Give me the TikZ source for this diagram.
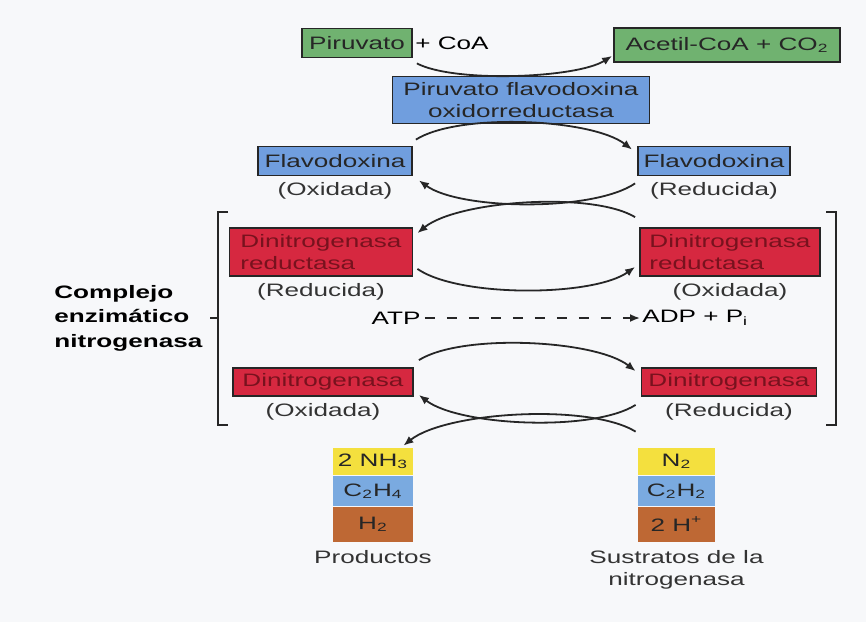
\documentclass[tikz,border=0pt]{standalone}
\usepackage{fontspec}
\setmainfont{Liberation Sans}[FakeStretch=1.45]
\usetikzlibrary{arrows.meta,positioning}

\definecolor{pgreen}{RGB}{112,178,112}
\definecolor{fblue}{RGB}{112,158,222}
\definecolor{nred}{RGB}{214,40,64}
\definecolor{ndark}{RGB}{120,18,30}
\definecolor{cyellow}{RGB}{244,224,62}
\definecolor{cblue}{RGB}{122,170,224}
\definecolor{cbrown}{RGB}{190,104,52}
\definecolor{pagebg}{RGB}{247,248,250}

\begin{document}
\begin{tikzpicture}[
        x=0.5pt, y=0.5pt,
        font=\fontsize{9}{11}\selectfont,
        node distance=2pt,
        box/.style={draw=black!85, line width=0.9pt, inner sep=2pt,
            align=center, text=black!85},
        redbox/.style={box, fill=nred, text=ndark, align=left},
        redox/.style={inner sep=1pt, text=black!80},
        chem/.style={inner sep=0pt, minimum width=40pt, text=black!85},
        arrow/.style={-{Latex[length=5pt,width=4pt]}, line width=0.9pt, black!85},
        arc/.style={arrow, looseness=0.6},
        bracket/.style={line width=0.9pt, black!85}
    ]
    \useasboundingbox[fill=pagebg] (0,0) rectangle (866,-622);

    % piruvato -> acetil-CoA
    \node[box, fill=pgreen, minimum width=55pt, minimum height=14.5pt] (pir) at (357,-43) {Piruvato};
    \node[right=0pt of pir, inner sep=1pt] (coa) {+ CoA};
    \node[box, fill=pgreen, minimum width=113pt, minimum height=17pt] (acet) at (727,-45)
    {Acetil-CoA + CO\textsubscript{2}};
    \node[box, fill=fblue, minimum width=128.5pt, minimum height=23.5pt] (pfo) at (521,-100)
    {Piruvato flavodoxina\\oxidorreductasa};

    % flavodoxina
    \node[box, fill=fblue, minimum width=77pt, minimum height=14.5pt] (flaL) at (335,-161) {Flavodoxina};
    \node[redox, below=of flaL] (flaLst) {(Oxidada)};
    \node[box, fill=fblue, minimum width=76pt, minimum height=14.5pt] (flaR) at (714,-161) {Flavodoxina};
    \node[redox, below=of flaR] (flaRst) {(Reducida)};

    % complejo nitrogenasa
    \node[redbox, minimum width=91.5pt, minimum height=24pt] (redL) at (321,-252)
    {Dinitrogenasa\\reductasa};
    \node[redox, below=of redL] (redLst) {(Reducida)};
    \node[redbox, minimum width=90pt, minimum height=24pt] (redR) at (730,-252)
    {Dinitrogenasa\\reductasa};
    \node[redox, below=of redR] (redRst) {(Oxidada)};
    \node[inner sep=2pt] (atp) at (396,-318) {ATP};
    \node[inner sep=1pt, anchor=west] (adp) at (640,-318) {ADP + P\textsubscript{i}};
    \node[redbox, minimum width=90pt, minimum height=14pt] (dinL) at (323,-382) {Dinitrogenasa};
    \node[redox, below=of dinL] (dinLst) {(Oxidada)};
    \node[redbox, minimum width=87.5pt, minimum height=14pt] (dinR) at (729,-382) {Dinitrogenasa};
    \node[redox, below=of dinR] (dinRst) {(Reducida)};

    \node[font=\fontsize{9}{12.3}\selectfont\bfseries, align=left, anchor=west, inner sep=0pt]
    (cplx) at (54,-318) {Complejo\\enzimático\\nitrogenasa};
    \draw[bracket] (228,-212) -- (218,-212) -- (218,-425) -- (228,-425);
    \draw[bracket] (218,-318) -- (210,-318);
    \draw[bracket] (826,-212) -- (836,-212) -- (836,-425) -- (826,-425);

    % productos y sustratos
    \node[chem, fill=cyellow, minimum height=13.5pt] (prodA) at (373,-461.5) {2 NH\textsubscript{3}};
    \node[chem, fill=cblue, minimum height=15pt, below=0pt of prodA] (prodB) {C\textsubscript{2}H\textsubscript{4}};
    \node[chem, fill=cbrown, minimum height=17.5pt, below=0pt of prodB] (prodC) {H\textsubscript{2}};
    \node[redox, below=3pt of prodC] (prodlbl) {Productos};
    \node[chem, fill=cyellow, minimum width=38.5pt, minimum height=13.5pt] (subA) at (676.5,-461.5) {N\textsubscript{2}};
    \node[chem, fill=cblue, minimum width=38.5pt, minimum height=15pt, below=0pt of subA] (subB) {C\textsubscript{2}H\textsubscript{2}};
    \node[chem, fill=cbrown, minimum width=38.5pt, minimum height=17.5pt, below=0pt of subB] (subC) {2 H\textsuperscript{+}};
    \node[redox, below=3pt of subC, align=center] (sublbl) {Sustratos de la\\nitrogenasa};

    \draw[arc, looseness=0.55] ([shift={(4,-5)}]pir.south east) to[bend right=30] ([shift={(-1,7)}]acet.south west);
    \draw[arc] ([shift={(3,6)}]flaL.north east) to[bend left=35] ([shift={(-5,-4)}]flaR.north west);
    \draw[arc] ([shift={(-2,-7)}]flaR.south west) to[bend left=35] ([shift={(6,-4)}]flaL.south east);
    \draw[arc] ([shift={(-4,10)}]redR.north west) to[bend right=35] ([shift={(4,-6)}]redL.north east);
    \draw[arc] ([shift={(4,8)}]redL.south east) to[bend right=35] ([shift={(-4,10)}]redR.south west);
    \draw[arrow, dashed, dash pattern=on 5pt off 6pt] (atp) -- (adp);
    \draw[arc] ([shift={(5,7)}]dinL.north east) to[bend left=35] ([shift={(-5,-4)}]dinR.north west);
    \draw[arc] ([shift={(-5,-8)}]dinR.south west) to[bend left=35] ([shift={(5,2)}]dinL.south east);
    \draw[arc] ([shift={(-2,16)}]subA.north west) to[bend right=35] ([shift={(-10,2)}]prodA.north east);
\end{tikzpicture}
\end{document}
